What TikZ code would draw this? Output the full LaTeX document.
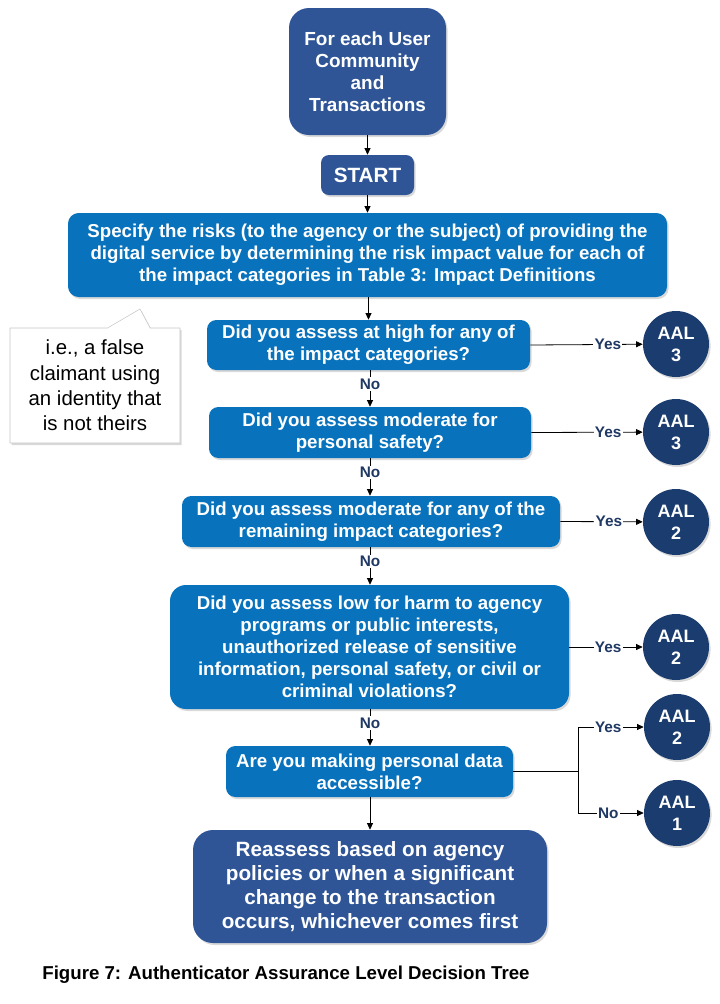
\documentclass[tikz,border=0pt]{standalone}
\usepackage{fontspec}
\setmainfont{Liberation Sans}
\usepackage{xcolor}
\usepackage{tikz}
\usetikzlibrary{positioning,shadows,shapes.callouts,arrows.meta}

\definecolor{darkblue}{HTML}{2F5597}
\definecolor{stepblue}{HTML}{0873BC}
\definecolor{aalblue}{HTML}{1A3C6E}
\definecolor{labelblue}{HTML}{1F3864}

\tikzset{
  boxshadow/.style={drop shadow={shadow xshift=1.2pt, shadow yshift=-1.5pt, opacity=0.3}},
  darkbox/.style={rectangle, rounded corners=15pt, fill=darkblue, text=white, align=center, inner sep=0pt, boxshadow},
  question/.style={rectangle, rounded corners=7pt, fill=stepblue, text=white, align=center, inner sep=0pt,
    font=\bfseries\fontsize{14}{16.5}\selectfont, boxshadow},
  aal/.style={circle, fill=aalblue, text=white, align=center, minimum size=49.5pt, inner sep=0pt,
    font=\bfseries\fontsize{13.5}{16.5}\selectfont, boxshadow},
  answer/.style={fill=white, text=labelblue, inner sep=1pt, font=\bfseries\fontsize{11.5}{13}\selectfont},
  link/.style={-{Triangle[length=5pt,width=4.5pt]}, line width=0.6pt}
}

\begin{document}
\begin{tikzpicture}[x=0.75pt, y=-0.75pt]
  \useasboundingbox (0,0) rectangle (720,1004);

  % main chain
  \node (community) [darkbox, minimum width=117.75pt, minimum height=95.25pt,
    font=\bfseries\fontsize{14.2}{16.5}\selectfont] at (367.5,71.5) {For each User\\Community\\and\\Transactions};
  \node (start) [darkbox, rounded corners=6pt, minimum width=69.75pt, minimum height=30pt,
    font=\bfseries\fontsize{15.5}{18}\selectfont] at (367.5,175) {START};
  \node (risks) [question, rounded corners=8pt, minimum width=449.25pt, minimum height=63pt] at (367.5,255)
    {Specify the risks (to the agency or the subject) of providing the\\digital service by determining the risk impact value for each of\\the impact categories in Table 3: Impact Definitions};
  \node (high) [question, minimum width=242.25pt, minimum height=37.5pt] at (368.5,345)
    {Did you assess at high for any of\\the impact categories?};
  \node (safety) [question, minimum width=241.5pt, minimum height=38.25pt] at (370,432.5)
    {Did you assess moderate for\\personal safety?};
  \node (moderate) [question, minimum width=283.5pt, minimum height=38.25pt] at (371,521.5)
    {Did you assess moderate for any of the\\remaining impact categories?};
  \node (low) [question, rounded corners=12pt, minimum width=299.25pt, minimum height=93pt] at (369.5,647)
    {Did you assess low for harm to agency\\programs or public interests,\\unauthorized release of sensitive\\information, personal safety, or civil or\\criminal violations?};
  \node (data) [question, minimum width=215.25pt, minimum height=38.25pt] at (369.5,771.5)
    {Are you making personal data\\accessible?};
  \node (reassess) [darkbox, minimum width=265.5pt, minimum height=84.75pt,
    font=\bfseries\fontsize{15.5}{18}\selectfont] at (370,886.5)
    {Reassess based on agency\\policies or when a significant\\change to the transaction\\occurs, whichever comes first};

  % note
  \node (note) [rectangle callout, callout absolute pointer={(140,309)}, callout pointer width=32pt,
    draw=gray!45, fill=white, align=center, minimum width=127.5pt, minimum height=86.25pt, inner sep=0pt,
    font=\fontsize{15.3}{19}\selectfont, boxshadow] at (95,385.5)
    {i.e., a false\\claimant using\\an identity that\\is not theirs};

  % outcomes
  \node (aalA) [aal] at (676,344) {AAL\\3};
  \node (aalB) [aal] at (676,432) {AAL\\3};
  \node (aalC) [aal] at (676,522) {AAL\\2};
  \node (aalD) [aal] at (676,647) {AAL\\2};
  \node (aalE) [aal] at (677,727) {AAL\\2};
  \node (aalF) [aal] at (677,813) {AAL\\1};
  \coordinate (fork) at (578,771.5);

  \draw[link] (community) -- (start);
  \draw[link] (start) -- (risks);
  \draw[link] (risks.south -| high.north) -- (high.north);
  \draw[link] (high.south -| safety.north) -- node[answer, pos=0.38] {No} (safety.north);
  \draw[link] (safety.south -| safety.south) -- node[answer, pos=0.38] {No} (moderate.north -| safety.south);
  \draw[link] (moderate.south -| safety.south) -- node[answer, pos=0.38] {No} (low.north -| safety.south);
  \draw[link] (low.south -| safety.south) -- node[answer, pos=0.38] {No} (data.north -| safety.south);
  \draw[link] (data.south -| safety.south) -- (reassess.north -| safety.south);

  \draw[link] (high.east) -- node[answer, pos=0.69] {Yes} (aalA);
  \draw[link] (safety.east) -- node[answer, pos=0.69] {Yes} (aalB);
  \draw[link] (moderate.east) -- node[answer, pos=0.59] {Yes} (aalC);
  \draw[link] (low.east) -- node[answer, pos=0.53] {Yes} (aalD);
  \draw[line width=0.6pt] (data.east) -- (fork);
  \draw[link] (fork) |- node[answer, pos=0.73] {Yes} (aalE);
  \draw[link] (fork) |- node[answer, pos=0.73] {No} (aalF);

  \node (caption) [font=\bfseries\fontsize{14}{16}\selectfont] at (286,975)
    {Figure 7: Authenticator Assurance Level Decision Tree};
\end{tikzpicture}
\end{document}
